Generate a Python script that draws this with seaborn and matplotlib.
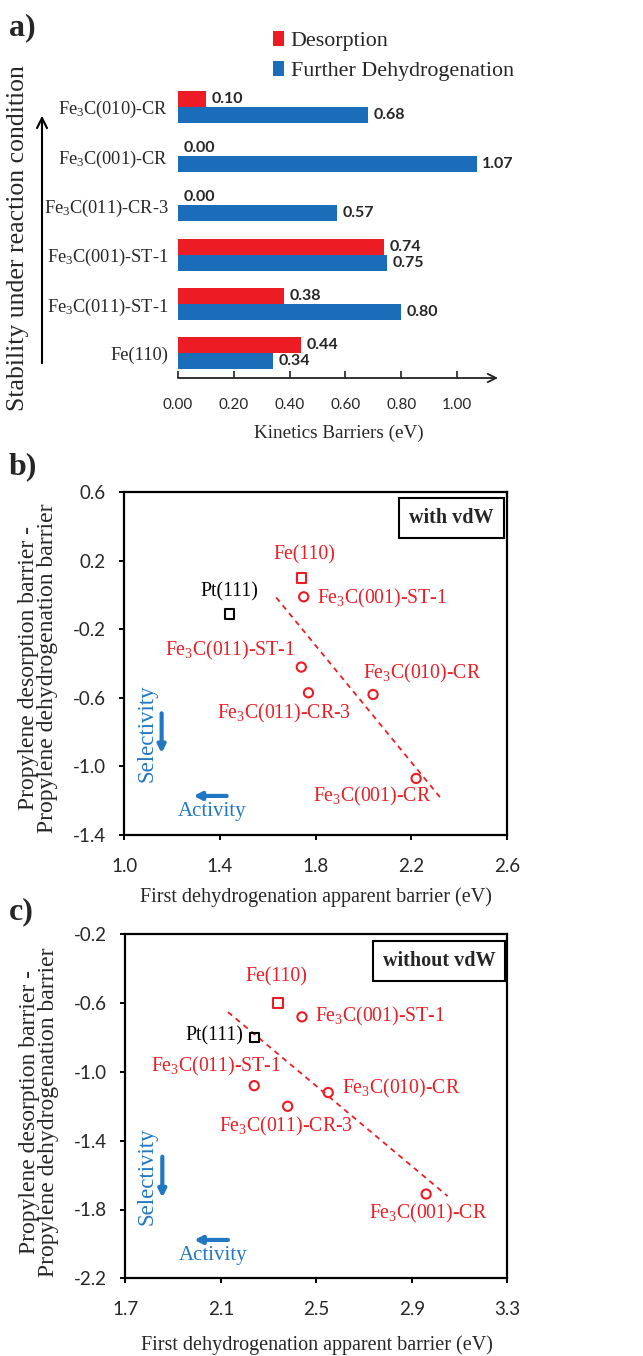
import numpy as np
import pandas as pd
import matplotlib
matplotlib.use('Agg')
import matplotlib.pyplot as plt
import seaborn as sns
from matplotlib.patches import FancyArrowPatch
from matplotlib.ticker import FormatStrFormatter

# ---------------- data ----------------
surfaces_a = ['Fe$_3$C(010)-CR', 'Fe$_3$C(001)-CR', 'Fe$_3$C(011)-CR-3',
              'Fe$_3$C(001)-ST-1', 'Fe$_3$C(011)-ST-1', 'Fe(110)']
desorption_barrier = [0.10, 0.00, 0.00, 0.74, 0.38, 0.44]
dehydrogenation_barrier = [0.68, 1.07, 0.57, 0.75, 0.80, 0.34]
series_names = ['Desorption', 'Further Dehydrogenation']
xticks_a = [0.0, 0.2, 0.4, 0.6, 0.8, 1.0]

fe_surfaces = ['Fe(110)', 'Fe$_3$C(001)-ST-1', 'Fe$_3$C(011)-ST-1',
               'Fe$_3$C(011)-CR-3', 'Fe$_3$C(010)-CR', 'Fe$_3$C(001)-CR']
fe_markers = ['s', 'o', 'o', 'o', 'o', 'o']
vdw_x = [1.74, 1.75, 1.74, 1.77, 2.04, 2.22]
vdw_y = [0.10, -0.01, -0.42, -0.57, -0.58, -1.07]
pt_label = 'Pt(111)'
pt_vdw_x = [1.44]
pt_vdw_y = [-0.11]
novdw_x = [2.34, 2.44, 2.24, 2.38, 2.55, 2.96]
novdw_y = [-0.60, -0.68, -1.08, -1.20, -1.12, -1.71]
pt_novdw_x = [2.24]
pt_novdw_y = [-0.80]
vdw_trend_range = [1.635, 2.32]
novdw_trend_range = [2.13, 3.05]
xticks_b = [1.0, 1.4, 1.8, 2.2, 2.6]
yticks_b = [-1.4, -1.0, -0.6, -0.2, 0.2, 0.6]
xticks_c = [1.7, 2.1, 2.5, 2.9, 3.3]
yticks_c = [-2.2, -1.8, -1.4, -1.0, -0.6, -0.2]

# ---------------- style ----------------
sns.set_theme(style='white')
SERIF = ['Liberation Serif', 'DejaVu Serif']
SANS = ['Lato', 'DejaVu Sans']
plt.rcParams['font.family'] = SERIF
plt.rcParams['mathtext.fontset'] = 'custom'
plt.rcParams['mathtext.rm'] = 'Liberation Serif'
plt.rcParams['mathtext.it'] = 'Liberation Serif:italic'
plt.rcParams['mathtext.bf'] = 'Liberation Serif:bold'

RED = '#ED1C24'
BAR_BLUE = '#1B6DBA'
TXT_BLUE = '#2277C2'

W, H = 643, 1356
fig = plt.figure(figsize=(W / 100, H / 100), dpi=100)


def frac(left, top, right, bottom):
    return [left / W, 1 - bottom / H, (right - left) / W, (bottom - top) / H]


# ---------------- panel a ----------------
axa = fig.add_axes(frac(178, 82, 498, 378))
df = pd.DataFrame({
    'surface': surfaces_a * 2,
    'barrier': desorption_barrier + dehydrogenation_barrier,
    'kind': [series_names[0]] * len(surfaces_a) + [series_names[1]] * len(surfaces_a),
})
sns.barplot(data=df, y='surface', x='barrier', hue='kind', orient='h',
            palette=[RED, BAR_BLUE], width=0.65, saturation=1,
            linewidth=0, ax=axa)
handles, labels = axa.get_legend_handles_labels()
if axa.get_legend() is not None:
    axa.get_legend().remove()
for cont in axa.containers:
    axa.bar_label(cont, fmt='%.2f', padding=4, fontsize=11.5,
                  fontweight='bold', family=SANS)
axa.set_xlim(0, 1.147)
axa.set_ylim(5.5, -0.5)
axa.set_xticks(xticks_a)
axa.xaxis.set_major_formatter(FormatStrFormatter('%.2f'))
for sp in axa.spines.values():
    sp.set_visible(False)
axa.tick_params(axis='x', direction='in', length=5, width=1.2, color='#222222',
                pad=14.5, labelsize=11, bottom=True)
for t in axa.get_xticklabels():
    t.set_family(SANS)
axa.tick_params(axis='y', length=0, pad=7, labelsize=13.2)
axa.set_ylabel('')
axa.set_xlabel('Kinetics Barriers (eV)', fontsize=13.8)
axa.xaxis.label.set_va('center')
axa.xaxis.set_label_coords(0.5025, -0.186)
axa.annotate('', xy=(1, 0), xytext=(0, 0), xycoords='axes fraction',
             arrowprops=dict(arrowstyle='->', lw=1.3, color='#222222',
                             shrinkA=0, shrinkB=0, mutation_scale=15))
fig.legend(handles, labels, loc='upper left', bbox_to_anchor=(273 / W, 1 - 31 / H),
           frameon=False, fontsize=15.8, handlelength=0.5, handleheight=0.65,
           handletextpad=0.3, labelspacing=0.45, borderpad=0, borderaxespad=0)
fig.add_artist(FancyArrowPatch((42 / W, 1 - 366 / H), (42 / W, 1 - 113 / H),
                               transform=fig.transFigure, arrowstyle='->',
                               mutation_scale=18, lw=1.5, color='black'))
fig.text(18 / W, 1 - 238 / H, 'Stability under reaction condition', rotation=90,
         ha='center', va='center', fontsize=18.5)
fig.text(9 / W, 1 - 28 / H, 'a)', fontsize=23, weight='bold', va='center')


# ---------------- panels b, c ----------------
def scatter_panel(ax, xs, ys, ptx, pty, trend_range, xlim, ylim, xticks, yticks,
                  label_pos, pt_pos, box_text, box_xy, sel, act, xlab_y, ylab_xy):
    xs = np.asarray(xs)
    ys = np.asarray(ys)
    for m in ['s', 'o']:
        idx = [i for i, mm in enumerate(fe_markers) if mm == m]
        sns.scatterplot(x=xs[idx], y=ys[idx], marker=m, s=44, facecolor='none',
                        edgecolor=RED, linewidth=1.5, ax=ax, zorder=3)
    sns.scatterplot(x=ptx, y=pty, marker='s', s=44, facecolor='none',
                    edgecolor='black', linewidth=1.5, ax=ax, zorder=3)
    coef = np.polyfit(xs, ys, 1)
    tx = np.asarray(trend_range)
    ax.plot(tx, np.polyval(coef, tx), ls=(0, (3, 2.6)), color=RED, lw=1.3, zorder=2)
    for name, (px, py, ha) in zip(fe_surfaces, label_pos):
        ax.text(px, py, name, color=RED, fontsize=14.2, ha=ha, va='center')
    ax.text(pt_pos[0], pt_pos[1], pt_label, color='black', fontsize=14.2,
            ha=pt_pos[2], va='center')
    ax.set_xlim(*xlim)
    ax.set_ylim(*ylim)
    ax.set_xticks(xticks)
    ax.set_yticks(yticks)
    ax.xaxis.set_major_formatter(FormatStrFormatter('%.1f'))
    ax.yaxis.set_major_formatter(FormatStrFormatter('%.1f'))
    for sp in ax.spines.values():
        sp.set_visible(True)
        sp.set_color('black')
        sp.set_linewidth(1.6)
    ax.tick_params(direction='out', length=3.6, width=1.4, color='black',
                   pad=9.5, labelsize=13.5, bottom=True, left=True)
    ax.tick_params(axis='x', pad=13)
    for t in ax.get_xticklabels() + ax.get_yticklabels():
        t.set_family(SANS)
    ax.text(box_xy[0], box_xy[1], box_text, transform=ax.transAxes, fontsize=14.5,
            weight='bold', ha='center', va='center',
            bbox=dict(boxstyle='square,pad=0.5', fc='white', ec='black', lw=1.5))
    # selectivity / activity
    ax.text(sel[0], sel[1], 'Selectivity', rotation=90, color=TXT_BLUE,
            fontsize=16.5, ha='center', va='center')
    ax.annotate('', xy=(sel[2], sel[4]), xytext=(sel[2], sel[3]),
                arrowprops=dict(arrowstyle='-|>', color=TXT_BLUE, lw=3,
                                mutation_scale=11, shrinkA=0, shrinkB=0))
    ax.text(act[0], act[1], 'Activity', color=TXT_BLUE, fontsize=15,
            ha='center', va='center')
    ax.annotate('', xy=(act[4], act[2]), xytext=(act[3], act[2]),
                arrowprops=dict(arrowstyle='-|>', color=TXT_BLUE, lw=3,
                                mutation_scale=11, shrinkA=0, shrinkB=0))
    ax.set_xlabel('First dehydrogenation apparent barrier (eV)', fontsize=14.5)
    ax.xaxis.label.set_va('center')
    ax.xaxis.set_label_coords(0.501, xlab_y)
    ax.set_ylabel('Propylene desorption barrier -\nPropylene dehydrogenation barrier',
                  fontsize=17, linespacing=0.88)
    ax.yaxis.label.set_va('center')
    ax.yaxis.set_label_coords(*ylab_xy)


axb = fig.add_axes(frac(124.3, 492.3, 507, 835))
scatter_panel(
    axb, vdw_x, vdw_y, pt_vdw_x, pt_vdw_y, vdw_trend_range,
    (1.0, 2.6), (-1.4, 0.6), xticks_b, yticks_b,
    [(1.752, 0.234, 'center'), (1.805, -0.019, 'left'), (1.714, -0.324, 'right'),
     (1.389, -0.690, 'left'), (1.997, -0.456, 'left'), (1.791, -1.176, 'left')],
    (1.439, 0.020, 'center'), 'with vdW', (0.855, 0.925),
    (1.093, -0.807, 1.156, -0.69, -0.923), (1.368, -1.264, -1.172, 1.428, 1.289),
    -0.181, (-0.226, 0.487))
fig.text(9 / W, 1 - 467 / H, 'b)', fontsize=23, weight='bold', va='center')

axc = fig.add_axes(frac(125.3, 934.3, 507.3, 1278.3))
scatter_panel(
    axc, novdw_x, novdw_y, pt_novdw_x, pt_novdw_y, novdw_trend_range,
    (1.7, 3.3), (-2.2, -0.2), xticks_c, yticks_c,
    [(2.334, -0.446, 'center'), (2.494, -0.679, 'left'), (2.352, -0.969, 'right'),
     (2.092, -1.318, 'left'), (2.609, -1.095, 'left'), (2.722, -1.822, 'left')],
    (2.194, -0.791, 'right'), 'without vdW', (0.821, 0.923),
    (1.789, -1.609, 1.855, -1.493, -1.731), (2.069, -2.070, -1.977, 2.130, 1.988),
    -0.194, (-0.226, 0.483))
fig.text(9 / W, 1 - 912 / H, 'c)', fontsize=23, weight='bold', va='center')

fig.savefig('out.png', dpi=100)
